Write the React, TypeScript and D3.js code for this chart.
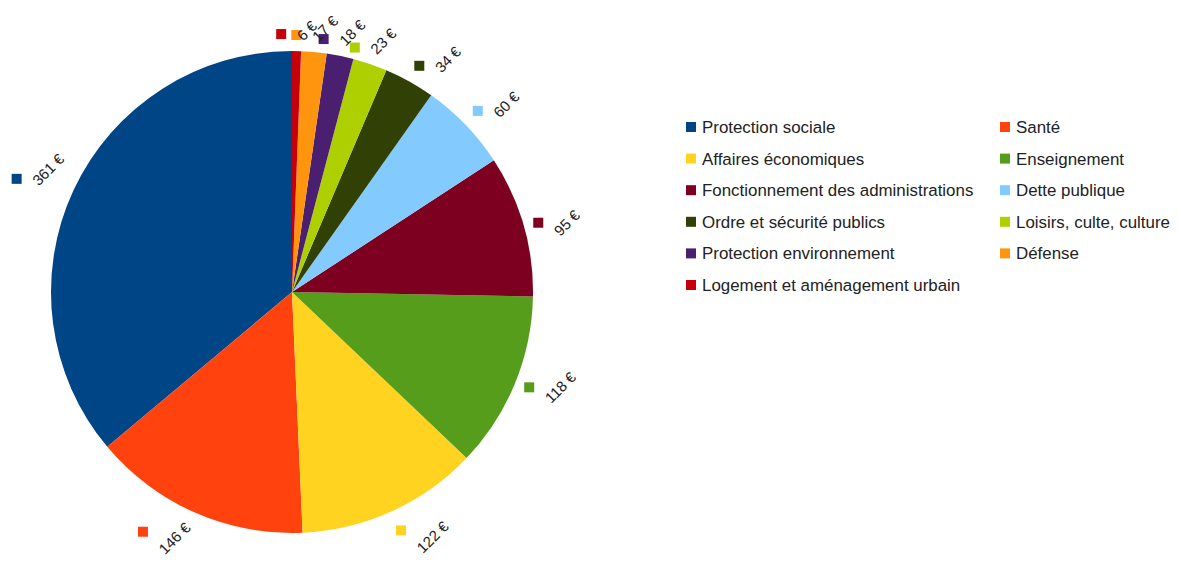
import React, { useRef, useEffect } from "react";
import * as d3 from "d3";

const categories = [
  "Protection sociale",
  "Santé",
  "Affaires économiques",
  "Enseignement",
  "Fonctionnement des administrations",
  "Dette publique",
  "Ordre et sécurité publics",
  "Loisirs, culte, culture",
  "Protection environnement",
  "Défense",
  "Logement et aménagement urbain",
];
const values = [361, 146, 122, 118, 95, 60, 34, 23, 18, 17, 6];
const colors = [
  "#004586", "#ff420e", "#ffd320", "#579d1c", "#7e0021", "#83caff",
  "#314004", "#aecf00", "#4b1f6f", "#ff950e", "#c5000b",
];
const valueLabels = values.map((v) => `${v} €`);

const W = 1178;
const H = 561;
const cx = 292;
const cy = 292;
const radius = 241;
const font = "'Liberation Sans', Arial, sans-serif";

export default function App() {
  const ref = useRef<SVGSVGElement>(null);

  useEffect(() => {
    if (!ref.current) return;
    const svg = d3.select(ref.current);
    svg.selectAll("*").remove();

    const data = categories.map((name, i) => ({
      name, value: values[i], color: colors[i], label: valueLabels[i],
    }));

    // LibreOffice draws the slices counter-clockwise from 12 o'clock
    const pie = d3.pie<any>().value((d: any) => d.value).sort(null)
      .startAngle(0).endAngle(-2 * Math.PI);
    const arcs = pie(data);
    const arc = d3.arc<any>().innerRadius(0).outerRadius(radius);

    const g = svg.append("g").attr("transform", `translate(${cx},${cy})`);
    g.selectAll("path").data(arcs).join("path")
      .attr("d", arc)
      .attr("fill", (d: any) => d.data.color);

    // value labels outside, square + text rotated 45deg
    const labelArc = d3.arc<any>().innerRadius(radius + 10).outerRadius(radius + 10);
    arcs.forEach((a: any) => {
      const [px, py] = labelArc.centroid(a);
      let deg = (((a.startAngle + a.endAngle) / 2) * 180) / Math.PI % 360;
      if (deg < 0) deg += 360;
      const sector = Math.floor(((deg + 22.5) % 360) / 45);

      const t = g.append("text")
        .attr("font-family", font)
        .attr("font-size", 15)
        .attr("fill", "#222")
        .text(a.data.label);
      const len = (t.node() as SVGTextElement).getComputedTextLength();
      const tw = (len + 9) * Math.SQRT1_2;
      const th = tw;
      const bw = 20 + tw;

      let left: number;
      if (sector === 0 || sector === 4) left = px - bw / 2;
      else if (sector < 4) left = px;
      else left = px - bw;

      let top: number;
      let sqY: number;
      if (sector === 2 || sector === 6) {
        top = py - th / 2;
        sqY = py;
      } else if (sector === 0 || sector === 1 || sector === 7) {
        top = py - th;
        sqY = py - 7;
      } else {
        top = py;
        sqY = py + 10;
      }

      g.append("rect")
        .attr("x", left)
        .attr("y", sqY - 5)
        .attr("width", 10)
        .attr("height", 10)
        .attr("fill", a.data.color);

      t.attr("text-anchor", "middle")
        .attr("dominant-baseline", "central")
        .attr("transform", `translate(${left + 20 + tw / 2},${top + th / 2}) rotate(-45)`);
    });

    // legend, two columns
    const colX = d3.scaleOrdinal<number, number>().domain([0, 1]).range([686, 1000]);
    const rowY = d3.scaleLinear().domain([0, 1]).range([127, 158.6]);
    const legend = svg.append("g");
    const items = legend.selectAll("g").data(data).join("g")
      .attr("transform", (_d: any, i: number) => `translate(${colX(i % 2)},${rowY(Math.floor(i / 2))})`);
    items.append("rect")
      .attr("x", 0).attr("y", -5).attr("width", 10).attr("height", 10)
      .attr("fill", (d: any) => d.color);
    items.append("text")
      .attr("x", 16)
      .attr("dy", "0.36em")
      .attr("font-family", font)
      .attr("font-size", 16.9)
      .attr("fill", "#222")
      .text((d: any) => d.name);
  }, []);

  return (
    <svg
      ref={ref}
      width={W}
      height={H}
      style={{ position: "absolute", left: 0, top: 0, background: "#fff" }}
    />
  );
}
